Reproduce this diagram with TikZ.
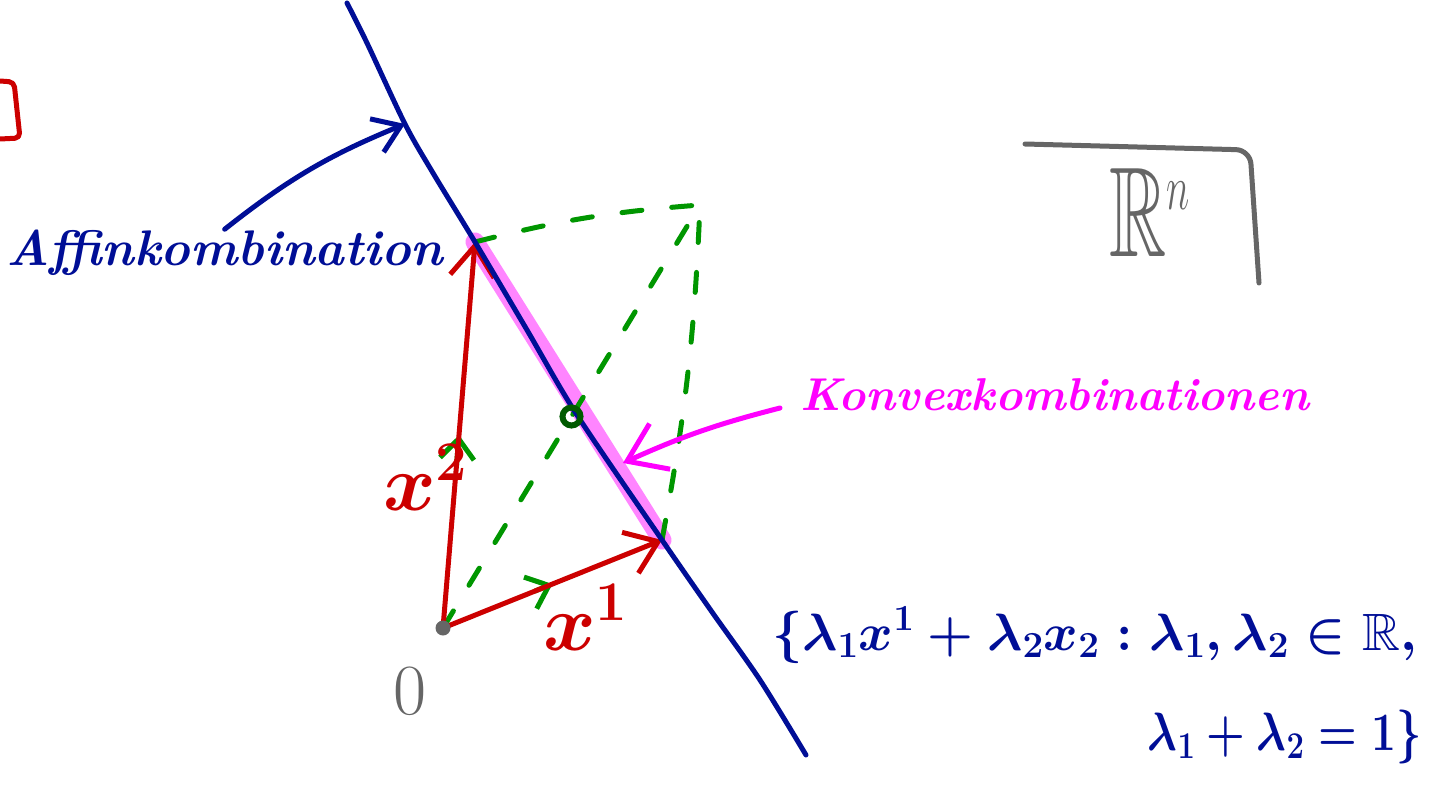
\RequirePackage{fix-cm}
\documentclass[tikz,border=0pt]{standalone}
\usepackage{amssymb}
\usetikzlibrary{arrows.meta,calc}
\definecolor{inkblue}{HTML}{000E96}
\definecolor{inkred}{HTML}{CC0000}
\definecolor{inkgreen}{HTML}{009600}
\definecolor{inkdarkgreen}{HTML}{005A00}
\definecolor{inkpink}{HTML}{FF00FF}
\definecolor{inkpinklight}{HTML}{FF85FF}
\definecolor{inkgray}{HTML}{666666}
\tikzset{
  pen/.style={
    line width=5pt,
    line cap=round,
    line join=round
  },
  bluepen/.style={pen, draw=inkblue},
  bluearrow/.style={
    pen,
    draw=inkblue,
    -{Straight Barb[length=26pt,width=36pt]}
  },
  redvec/.style={
    pen,
    draw=inkred,
    -{Straight Barb[length=30pt,width=44pt]}
  },
  pinkarrow/.style={
    pen,
    draw=inkpink,
    -{Straight Barb[length=36pt,width=50pt]}
  },
  greendash/.style={
    pen,
    draw=inkgreen,
    dash pattern=on 20pt off 30pt
  },
  greenhead/.style={
    pen,
    draw=inkgreen,
    -{Straight Barb[length=20pt,width=34pt]}
  },
  konvexband/.style={
    line width=19pt,
    line cap=round,
    draw=inkpinklight
  },
  handtext/.style={
    inner sep=0pt,
    font=\fontsize{50}{54}\selectfont\bfseries\itshape
  },
  redlabel/.style={
    inner sep=0pt,
    text=inkred,
    font=\fontsize{80}{84}\selectfont\boldmath
  },
  graylabel/.style={
    inner sep=0pt,
    text=inkgray,
    font=\fontsize{72}{76}\selectfont\bfseries
  },
  setlabel/.style={
    inner sep=0pt,
    text=inkblue,
    font=\fontsize{54}{58}\selectfont\boldmath
  }
}
\begin{document}
\begin{tikzpicture}[x=1pt,y=-1pt]
\useasboundingbox (0,0) rectangle (1431,787);
% points of the sketch
\coordinate (O) at (443,628);
\coordinate (X1) at (662,540);
\coordinate (X2) at (475,242);
\coordinate (S) at (700,205);
\coordinate (M) at ($(O)!0.5!(S)$);
\coordinate (affinpt) at (405,124);
\coordinate (konvexpt) at (623,463);
\coordinate (konvexfoot) at (780,408);

% convex part highlighted
\draw[konvexband] (X2) -- (X1);

% parallelogram, dashed
\draw[greendash] (O) -- (S);
\draw[greendash] (X2) to[bend left=5] (S);
\draw[greendash] (X1) to[bend right=4] (S);
\draw[greenhead] ($(O)!0.42!(X2)$) -- ($(O)!0.5!(X2)$);
\draw[greenhead] ($(O)!0.42!(X1)$) -- ($(O)!0.5!(X1)$);

% the two vectors
\draw[redvec] (O) -- (X2);
\draw[redvec] (O) -- (X1);

% affine line through x^1 and x^2
\draw[bluepen] plot[smooth] coordinates {(347,3) (367,43) (405,124) (433,173)
  (475,242) (527,330) (577,415) (662,540) (712,612) (760,680) (806,755)};

\draw[draw=inkdarkgreen, line width=6pt] (M) circle (9);
\fill[inkgray] (O) circle (7.5);

% labels
\node[handtext, text=inkblue, anchor=base west] (affin) at (6,265) {Affinkombination};
\draw[bluearrow] (affin.north) to[bend left=8] (affinpt);
\node[handtext, text=inkpink, anchor=base west, font=\fontsize{46}{50}\selectfont\bfseries\itshape]
  (konvex) at (800,410) {Konvexkombinationen};
\draw[pinkarrow] (konvexfoot) to[bend right=5] (konvexpt);

\node[redlabel, anchor=base west] (labx2) at (383,510) {$x^2$};
\node[redlabel, anchor=base west] (labx1) at (543,650) {$x^1$};
\node[graylabel, anchor=base] (labzero) at (410,714) {$0$};
\node[graylabel, anchor=base, xscale=0.62, font=\fontsize{128}{132}\selectfont] (labrn) at (1150,256)
  {$\mathbb{R}^{\scriptscriptstyle n}$};

\node[setlabel, anchor=base west, font=\fontsize{52.5}{56}\selectfont\boldmath] (setone) at (772,650)
  {$\{\lambda_1x^1+\lambda_2x_2:\lambda_1,\lambda_2\in\mathbb{R},$};
\node[setlabel, anchor=base east, xscale=0.82] (settwo) at (1422,750)
  {$\lambda_1+\lambda_2=1\}$};

% bits at the edges
\draw[pen, draw=inkred, rounded corners=5pt] (0,81) -- (14,82) -- (20,138) -- (0,139);
\draw[pen, draw=inkgray, rounded corners=14pt] (1025,144) -- (1250,150) -- (1259,283);
\end{tikzpicture}
\end{document}
